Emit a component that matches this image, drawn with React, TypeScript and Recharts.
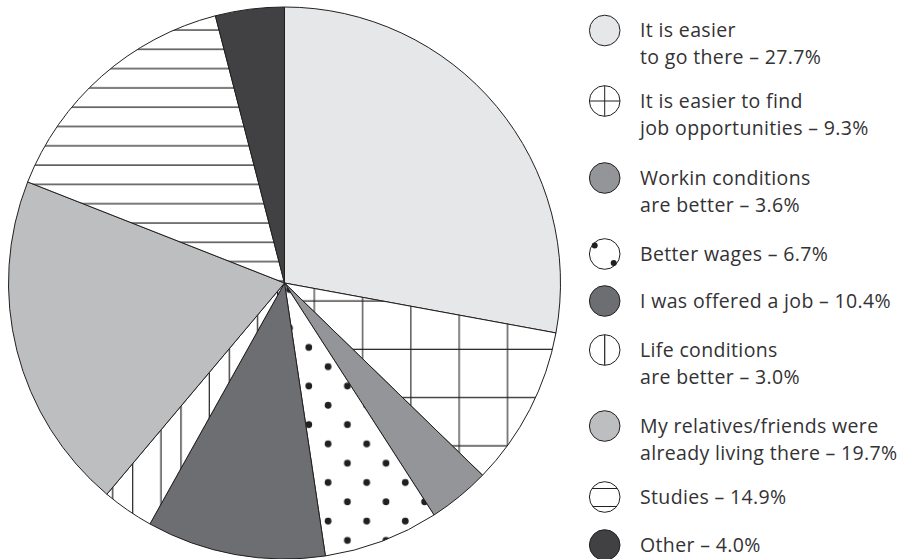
import { PieChart, Pie, Cell } from 'recharts';

// slices, clockwise from 12 o'clock
const names = [
  ['It is easier', 'to go there'],
  ['It is easier to find', 'job opportunities'],
  ['Workin conditions', 'are better'],
  ['Better wages'],
  ['I was offered a job'],
  ['Life conditions', 'are better'],
  ['My relatives/friends were', 'already living there'],
  ['Studies'],
  ['Other'],
];
const values = [27.7, 9.3, 3.6, 6.7, 10.4, 3.0, 19.7, 14.9, 4.0];

const fills = [
  '#e6e7e8',
  'url(#grid)',
  '#939598',
  'url(#dots)',
  '#6d6e71',
  'url(#vlines)',
  '#bcbec0',
  'url(#hlines)',
  '#414042',
];

// legend glyph kinds
const icons = ['solid', 'cross', 'solid', 'dots', 'solid', 'vline', 'solid', 'hlines', 'solid'];

const data = values.map((v, i) => ({ name: names[i].join(' '), value: v }));

const INK = '#231f20';
const TEXT = '#333234';
const legendY = [30.5, 101, 178, 254, 301, 350, 426, 497, 545];
const ICON_X = 604.7;
const ICON_R = 15.3;
const TEXT_X = 640;

function LegendIcon({ i, y }: { i: number; y: number }) {
  const kind = icons[i];
  const solid = kind === 'solid';
  return (
    <g>
      <circle cx={ICON_X} cy={y} r={ICON_R} fill={solid ? fills[i] : '#fff'} stroke={INK} strokeWidth={1} />
      {kind === 'cross' && (
        <path
          d={`M${ICON_X} ${y - ICON_R} V${y + ICON_R} M${ICON_X - ICON_R} ${y} H${ICON_X + ICON_R}`}
          stroke={INK}
          strokeWidth={1}
        />
      )}
      {kind === 'vline' && (
        <path d={`M${ICON_X} ${y - ICON_R} V${y + ICON_R}`} stroke={INK} strokeWidth={1.2} />
      )}
      {kind === 'hlines' && (
        <path
          d={`M${ICON_X - 12.8} ${y - 8.5} H${ICON_X + 12.8} M${ICON_X - 12.2} ${y + 9.5} H${ICON_X + 12.2}`}
          stroke={INK}
          strokeWidth={1.2}
        />
      )}
      {kind === 'dots' && (
        <g fill={INK}>
          <circle cx={ICON_X - 10} cy={y - 8.5} r={3} />
          <circle cx={ICON_X + 9} cy={y + 9} r={3} />
        </g>
      )}
    </g>
  );
}

function SideLegend() {
  return (
    <svg
      width={903}
      height={559}
      style={{ position: 'absolute', left: 0, top: 0, pointerEvents: 'none' }}
    >
      {names.map((lines, i) => {
        const y = legendY[i];
        const txt = lines.map((l, j) => (j === lines.length - 1 ? `${l} – ${values[i].toFixed(1)}%` : l));
        return (
          <g key={i}>
            <LegendIcon i={i} y={y} />
            <text fontFamily="'Open Sans', sans-serif" fontSize={19.5} letterSpacing={0.35} fill={TEXT}>
              {txt.map((t, j) => (
                <tspan key={j} x={TEXT_X} y={y + 6.5 + j * 27}>
                  {t}
                </tspan>
              ))}
            </text>
          </g>
        );
      })}
    </svg>
  );
}

export default function App() {
  return (
    <div style={{ position: 'absolute', left: 0, top: 0, width: 903, height: 559, background: '#fff' }}>
      <PieChart width={903} height={559} margin={{ top: 0, right: 0, bottom: 0, left: 0 }}>
        <defs>
          <pattern id="grid" patternUnits="userSpaceOnUse" width={48.3} height={48.3}>
            <rect width={48.3} height={48.3} fill="#fff" />
            <path d="M24.5 0 V48.3 M0 11.2 H48.3" stroke={INK} strokeWidth={1.1} />
          </pattern>
          <pattern id="hlines" patternUnits="userSpaceOnUse" width={20} height={19.3}>
            <rect width={20} height={19.3} fill="#fff" />
            <path d="M0 10.7 H20" stroke={INK} strokeWidth={1.2} />
          </pattern>
          <pattern id="vlines" patternUnits="userSpaceOnUse" width={48.3} height={20}>
            <rect width={48.3} height={20} fill="#fff" />
            <path d="M16.1 0 V20 M36.1 0 V20" stroke={INK} strokeWidth={1.2} />
          </pattern>
          <pattern id="dots" patternUnits="userSpaceOnUse" x={-9.65} y={-9.65} width={38.6} height={38.6}>
            <rect width={38.6} height={38.6} fill="#fff" />
            <circle cx={9.65} cy={9.65} r={3.4} fill={INK} />
            <circle cx={28.95} cy={28.95} r={3.4} fill={INK} />
          </pattern>
        </defs>
        <Pie
          data={data}
          dataKey="value"
          cx={284.5}
          cy={283}
          outerRadius={276}
          startAngle={90}
          endAngle={-270}
          stroke={INK}
          strokeWidth={1}
          isAnimationActive={false}
        >
          {data.map((_, i) => (
            <Cell key={i} fill={fills[i]} />
          ))}
        </Pie>
      </PieChart>
      <SideLegend />
    </div>
  );
}
